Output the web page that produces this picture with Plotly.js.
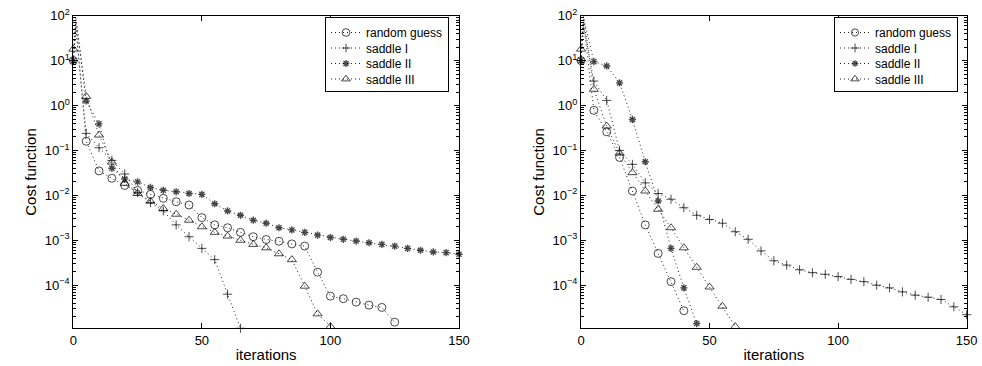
<!DOCTYPE html>
<html>
<head>
<meta charset="utf-8">
<script src="https://cdn.plot.ly/plotly-3.0.1.min.js"></script>
<style>
  html, body { margin: 0; padding: 0; background: #fff; }
  #chart { width: 982px; height: 366px; }
</style>
</head>
<body>
<div id="chart"></div>
<script>
// Iterations at which a marker is recorded (every 5 steps)
const markIters = [0, 5, 10, 15, 20, 25, 30, 35, 40, 45, 50, 55, 60, 65, 70, 75,
  80, 85, 90, 95, 100, 105, 110, 115, 120, 125, 130, 135, 140, 145, 150];
// First step after the start, where every run overshoots
const peakIter = 1;

const seriesNames = ['random guess', 'saddle I', 'saddle II', 'saddle III'];
const seriesSymbols = ['circle-open', 'cross-thin-open', 'asterisk-open', 'triangle-up-open'];

// Left panel: cost per recorded iteration
const leftRandom = [10, 0.16, 0.035, 0.024, 0.0166, 0.0129, 0.0105, 0.0086, 0.0072, 0.0061,
  0.0032, 0.0022, 0.0019, 0.0015, 0.0012, 0.00104, 0.00095, 0.00083, 0.00074, 0.000195,
  5.7e-5, 5.0e-5, 4.2e-5, 3.6e-5, 3.2e-5, 1.5e-5];
const leftSaddle1 = [10, 0.24, 0.115, 0.06, 0.030, 0.0115, 0.0069, 0.0045, 0.0022, 0.0012,
  6.6e-4, 3.7e-4, 6.3e-5, 1.1e-5];
const leftSaddle2 = [10, 1.26, 0.39, 0.040, 0.023, 0.020, 0.015, 0.013, 0.012, 0.011,
  0.0105, 0.0065, 0.0045, 0.0036, 0.0028, 0.0024, 0.0019, 0.0017, 0.0015, 0.0013,
  0.00115, 0.00105, 9.6e-4, 8.8e-4, 8.1e-4, 7.4e-4, 6.6e-4, 6.0e-4, 5.5e-4, 5.3e-4, 4.9e-4];
const leftSaddle3 = [18, 1.6, 0.22, 0.055, 0.0185, 0.011, 0.0074, 0.0051, 0.0038, 0.0028,
  0.0020, 0.0015, 0.00124, 0.0010, 8.1e-4, 6.8e-4, 5.0e-4, 3.7e-4, 9.5e-5, 2.3e-5, 1.2e-5];
const leftPeak = [60, 50, 80, 90];

// Right panel: cost per recorded iteration
const rightRandom = [10, 0.78, 0.26, 0.07, 0.0125, 0.0022, 5.1e-4, 1.2e-4, 2.7e-5];
const rightSaddle1 = [10, 3.5, 1.3, 0.1, 0.049, 0.019, 0.011, 0.0082, 0.0053, 0.0036,
  0.0029, 0.0024, 0.00155, 0.00105, 5.8e-4, 3.5e-4, 2.8e-4, 2.2e-4, 1.9e-4, 1.75e-4,
  1.55e-4, 1.35e-4, 1.2e-4, 1.0e-4, 8.7e-5, 7.1e-5, 6.0e-5, 5.4e-5, 4.8e-5, 3.3e-5, 2.2e-5];
const rightSaddle2 = [10, 9.5, 7.6, 3.2, 0.49, 0.056, 0.0075, 6.6e-4, 8.7e-5, 1.4e-5];
const rightSaddle3 = [18, 2.3, 0.35, 0.087, 0.032, 0.0125, 0.0049, 0.0019, 6.8e-4, 2.5e-4,
  9.1e-5, 3.4e-5, 1.2e-5];
const rightPeak = [70, 60, 90, 95];

const yTickVals = [1e-4, 1e-3, 1e-2, 1e-1, 1, 10, 100];
const yTickText = ['10<sup>\u22124</sup>', '10<sup>\u22123</sup>', '10<sup>\u22122</sup>',
  '10<sup>\u22121</sup>', '10<sup>0</sup>', '10<sup>1</sup>', '10<sup>2</sup>'];
const xTickVals = [0, 50, 100, 150];

const FONT = 'Liberation Sans, Arial, Helvetica, sans-serif';
const markerSizes = [8, 6.5, 6, 8];
const markerWidths = [1, 1, 1.4, 1];

function buildTrace(values, peak, idx, xa, ya, legendId) {
  const x = [markIters[0], peakIter];
  const y = [values[0], peak];
  const sizes = [markerSizes[idx], 0];
  for (let i = 1; i < values.length; i++) {
    x.push(markIters[i]);
    y.push(values[i]);
    sizes.push(markerSizes[idx]);
  }
  return {
    type: 'scatter',
    mode: 'lines+markers',
    name: seriesNames[idx],
    x: x,
    y: y,
    xaxis: xa,
    yaxis: ya,
    legend: legendId,
    cliponaxis: false,
    line: { color: '#222', width: 1, dash: '1px,3px' },
    marker: {
      symbol: seriesSymbols[idx],
      size: sizes,
      color: '#000',
      line: { color: '#000', width: markerWidths[idx] }
    }
  };
}

const leftSets = [leftRandom, leftSaddle1, leftSaddle2, leftSaddle3];
const rightSets = [rightRandom, rightSaddle1, rightSaddle2, rightSaddle3];

const traces = [];
leftSets.forEach((v, i) => traces.push(buildTrace(v, leftPeak[i], i, 'x', 'y', 'legend')));
rightSets.forEach((v, i) => traces.push(buildTrace(v, rightPeak[i], i, 'x2', 'y2', 'legend2')));

const W = 982, H = 366;
const yDomain = [1 - 328.3 / H, 1 - 15.7 / H];

function xAxis(domain, anchor) {
  return {
    domain: domain,
    anchor: anchor,
    range: [0, 150],
    tickvals: xTickVals,
    ticktext: xTickVals.map(String),
    ticks: 'inside',
    ticklen: 5,
    tickcolor: '#000',
    showline: true,
    linecolor: '#000',
    linewidth: 1,
    mirror: 'ticks',
    showgrid: false,
    zeroline: false,
    tickfont: { family: FONT, size: 13, color: '#000' },
    title: { text: 'iterations', font: { family: FONT, size: 15, color: '#000' }, standoff: 2 }
  };
}

function yAxis(anchor) {
  return {
    domain: yDomain,
    anchor: anchor,
    type: 'log',
    range: [-4.96, 2.0],
    tickvals: yTickVals,
    ticktext: yTickText,
    ticks: 'inside',
    ticklen: 5,
    tickcolor: '#000',
    minor: { ticks: 'inside', ticklen: 3, tickcolor: '#000', dtick: 'D1', showgrid: false },
    showline: true,
    linecolor: '#000',
    linewidth: 1,
    mirror: 'ticks',
    showgrid: false,
    zeroline: false,
    tickfont: { family: FONT, size: 13, color: '#000' },
    title: { text: 'Cost function', font: { family: FONT, size: 15, color: '#000' }, standoff: 4 }
  };
}

function legendBox(xRight) {
  return {
    x: xRight / W,
    xanchor: 'right',
    y: 1 - 17 / H,
    yanchor: 'top',
    bgcolor: '#fff',
    bordercolor: '#000',
    borderwidth: 1,
    font: { family: FONT, size: 12, color: '#000' },
    tracegroupgap: 0,
    itemwidth: 30
  };
}

const layout = {
  width: W,
  height: H,
  margin: { l: 0, r: 0, t: 0, b: 0 },
  paper_bgcolor: '#fff',
  plot_bgcolor: '#fff',
  showlegend: true,
  xaxis: xAxis([73.3 / W, 459 / W], 'y'),
  yaxis: yAxis('x'),
  xaxis2: xAxis([581 / W, 966.7 / W], 'y2'),
  yaxis2: yAxis('x2'),
  legend: legendBox(449),
  legend2: legendBox(958)
};

// Tighter row pitch for the legend entries
const LEGEND_ROW = 15.5;

function tightenLegend(gd, legendId) {
  const leg = gd.querySelector('g.' + legendId);
  if (!leg) return;
  const rows = Array.from(leg.querySelectorAll('g.traces'));
  if (rows.length < 2) return;
  const parse = (el) => {
    const m = /translate\(\s*([-\d.]+)[ ,]+([-\d.]+)\s*\)/.exec(el.getAttribute('transform') || '');
    return m ? [parseFloat(m[1]), parseFloat(m[2])] : null;
  };
  const first = parse(rows[0]);
  const second = parse(rows[1]);
  if (!first || !second) return;
  const oldPitch = second[1] - first[1];
  rows.forEach((r, i) => {
    const p = parse(r);
    if (p) r.setAttribute('transform', 'translate(' + p[0] + ',' + (first[1] + i * LEGEND_ROW) + ')');
  });
  const shrink = (rows.length - 1) * (oldPitch - LEGEND_ROW) + 3;
  leg.querySelectorAll('rect.bg').forEach((bg) => {
    const h = parseFloat(bg.getAttribute('height'));
    if (!isNaN(h)) bg.setAttribute('height', h - shrink);
  });
  const sb = leg.querySelector('g.scrollbox');
  if (sb) {
    const p = parse(sb);
    if (p) sb.setAttribute('transform', 'translate(' + p[0] + ',' + (p[1] - 2) + ')');
  }
}

Plotly.newPlot('chart', traces, layout, { staticPlot: true, displayModeBar: false })
  .then((gd) => {
    tightenLegend(gd, 'legend');
    tightenLegend(gd, 'legend2');
  });
</script>
</body>
</html>
